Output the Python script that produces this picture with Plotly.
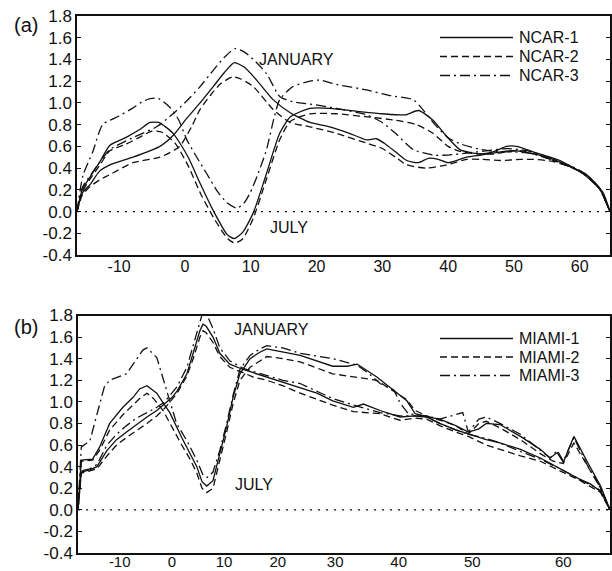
import math
import plotly.graph_objects as go

# ---------------- Panel (a): NCAR (latitude, value) ----------------
ncar1_jan_lat = [-16.4, -15.6, -14.4, -13.0, -11.4, -7.9, -3.8, -1.8, 0.3, 2.3, 4.3, 6.0, 7.5, 9.0, 10.9, 13.4, 16.0, 19.0, 22.0, 25.0, 27.6, 29.1, 30.5, 32.0, 33.7, 35.5, 37.0, 38.5, 40.0, 42.8, 45.0, 48.0, 50.0, 53.0, 56.0, 59.0, 61.0, 63.0, 64.6]
ncar1_jan_val = [0.0, 0.17, 0.25, 0.37, 0.43, 0.50, 0.60, 0.70, 0.86, 1.00, 1.15, 1.28, 1.37, 1.33, 1.21, 1.03, 0.91, 0.82, 0.78, 0.72, 0.66, 0.67, 0.62, 0.55, 0.47, 0.45, 0.49, 0.48, 0.45, 0.50, 0.52, 0.55, 0.56, 0.53, 0.48, 0.40, 0.34, 0.22, 0.0]

ncar2_jan_lat = [-16.4, -15.6, -14.4, -13.0, -11.4, -7.9, -3.8, -0.8, 1.0, 2.3, 4.0, 5.5, 7.3, 8.5, 10.4, 13.4, 16.0, 19.0, 23.0, 27.6, 30.0, 32.0, 33.7, 36.7, 39.8, 42.8, 45.0, 48.0, 51.0, 53.0, 56.0, 59.0, 61.0, 63.0, 64.6]
ncar2_jan_val = [0.0, 0.15, 0.23, 0.29, 0.34, 0.45, 0.50, 0.60, 0.78, 0.94, 1.08, 1.18, 1.24, 1.22, 1.15, 0.94, 0.82, 0.78, 0.72, 0.63, 0.58, 0.50, 0.43, 0.40, 0.43, 0.48, 0.48, 0.47, 0.48, 0.48, 0.46, 0.40, 0.33, 0.21, 0.0]

ncar3_jan_lat = [-16.4, -15.6, -14.4, -13.0, -11.4, -7.9, -4.3, -1.8, 0.3, 2.3, 4.3, 6.0, 7.6, 9.0, 10.4, 12.4, 14.4, 16.4, 19.0, 23.0, 27.6, 30.0, 32.0, 34.7, 37.7, 40.0, 43.0, 46.0, 49.0, 52.0, 56.0, 59.0, 61.0, 63.0, 64.6]
ncar3_jan_val = [0.0, 0.22, 0.33, 0.45, 0.57, 0.68, 0.78, 0.90, 1.02, 1.15, 1.30, 1.42, 1.50, 1.47, 1.40, 1.27, 1.06, 1.01, 0.99, 0.95, 0.89, 0.82, 0.72, 0.57, 0.52, 0.52, 0.54, 0.56, 0.58, 0.56, 0.48, 0.41, 0.34, 0.21, 0.0]

ncar1_jul_lat = [-16.4, -15.6, -14.4, -13.0, -11.4, -9.0, -7.0, -5.3, -4.0, -1.8, 0.5, 2.3, 4.3, 6.4, 7.5, 8.8, 10.4, 12.4, 14.4, 16.0, 19.0, 22.0, 26.6, 30.0, 33.5, 35.5, 37.7, 39.8, 41.8, 44.8, 46.8, 48.9, 50.4, 52.9, 57.0, 60.5, 62.0, 63.5, 64.6]
ncar1_jul_val = [0.0, 0.20, 0.32, 0.45, 0.61, 0.68, 0.75, 0.82, 0.82, 0.72, 0.50, 0.26, 0.01, -0.21, -0.25, -0.19, -0.01, 0.35, 0.72, 0.87, 0.95, 0.95, 0.92, 0.90, 0.89, 0.93, 0.84, 0.69, 0.57, 0.53, 0.55, 0.60, 0.60, 0.55, 0.47, 0.35, 0.27, 0.18, 0.0]

ncar2_jul_lat = [-16.4, -15.6, -14.4, -13.0, -11.4, -9.0, -7.0, -5.0, -3.5, -1.5, 0.5, 2.5, 4.5, 6.5, 7.6, 8.8, 10.4, 12.4, 14.4, 16.0, 19.0, 23.0, 28.0, 32.0, 35.2, 37.7, 40.0, 42.0, 44.8, 47.0, 49.0, 51.0, 53.0, 56.0, 59.0, 61.0, 63.0, 64.6]
ncar2_jul_val = [0.0, 0.18, 0.30, 0.42, 0.56, 0.62, 0.68, 0.74, 0.73, 0.63, 0.42, 0.15, -0.07, -0.25, -0.29, -0.25, -0.06, 0.30, 0.66, 0.83, 0.90, 0.90, 0.87, 0.84, 0.80, 0.72, 0.60, 0.55, 0.53, 0.53, 0.55, 0.56, 0.53, 0.47, 0.40, 0.33, 0.21, 0.0]

ncar3_jul_lat = [-16.4, -15.5, -14.0, -12.5, -10.0, -8.0, -6.5, -5.3, -4.0, -2.3, -1.0, 0.3, 1.8, 3.3, 5.0, 6.4, 7.9, 9.0, 9.9, 11.0, 12.4, 13.5, 14.4, 16.4, 19.0, 20.5, 23.0, 27.6, 31.0, 34.7, 36.0, 38.0, 40.0, 42.0, 45.0, 48.0, 50.0, 53.0, 56.0, 59.0, 61.0, 63.0, 64.6]
ncar3_jul_val = [0.0, 0.33, 0.55, 0.80, 0.88, 0.95, 1.01, 1.04, 1.04, 0.96, 0.85, 0.66, 0.50, 0.35, 0.18, 0.08, 0.03, 0.08, 0.17, 0.33, 0.57, 0.85, 1.03, 1.15, 1.20, 1.21, 1.17, 1.12, 1.07, 1.03, 0.95, 0.80, 0.68, 0.62, 0.57, 0.55, 0.55, 0.53, 0.47, 0.40, 0.33, 0.21, 0.0]

# ---------------- Panel (b): MIAMI (latitude, value) ----------------
miami1_jul_lat = [-17.8, -17.2, -15.1, -13.8, -11.9, -9.4, -7.5, -6.2, -4.8, -2.9, -1.7, -0.4, 1.9, 3.5, 4.8, 5.8, 6.7, 7.9, 9.2, 10.5, 11.7, 13.0, 14.9, 16.7, 18.0, 20.9, 24.0, 29.6, 32.0, 33.6, 36.7, 39.2, 41.2, 42.4, 44.0, 45.8, 47.9, 49.5, 50.8, 51.7, 53.3, 55.6, 57.7, 58.7, 59.4, 60.0, 61.0, 62.2, 63.4, 64.2]
miami1_jul_val = [0.0, 0.46, 0.47, 0.58, 0.80, 0.95, 1.04, 1.12, 1.15, 1.08, 0.99, 0.90, 0.67, 0.52, 0.40, 0.26, 0.22, 0.27, 0.52, 0.77, 1.04, 1.26, 1.40, 1.46, 1.49, 1.46, 1.43, 1.33, 1.33, 1.35, 1.23, 1.11, 1.01, 0.89, 0.86, 0.84, 0.78, 0.72, 0.75, 0.80, 0.79, 0.68, 0.56, 0.48, 0.53, 0.44, 0.68, 0.45, 0.22, 0.0]

miami2_jul_lat = [-17.8, -17.2, -15.1, -13.8, -11.9, -9.4, -7.5, -6.2, -4.8, -3.5, -1.7, -0.4, 1.9, 3.5, 4.8, 5.8, 6.7, 7.9, 9.2, 10.5, 11.7, 13.0, 14.9, 16.7, 18.0, 20.9, 24.0, 29.6, 33.6, 36.7, 39.2, 41.2, 42.4, 44.0, 45.8, 47.9, 49.5, 50.8, 51.7, 53.3, 55.6, 57.7, 59.0, 60.0, 61.0, 62.2, 63.4, 64.2]
miami2_jul_val = [0.0, 0.45, 0.46, 0.55, 0.74, 0.88, 0.97, 1.03, 1.08, 1.03, 0.92, 0.80, 0.60, 0.47, 0.34, 0.20, 0.16, 0.20, 0.45, 0.72, 0.98, 1.20, 1.32, 1.38, 1.42, 1.40, 1.37, 1.26, 1.23, 1.20, 1.10, 1.02, 0.92, 0.87, 0.83, 0.78, 0.70, 0.80, 0.82, 0.76, 0.65, 0.52, 0.45, 0.43, 0.62, 0.42, 0.20, 0.0]

miami3_jul_lat = [-17.8, -17.2, -15.6, -12.9, -11.9, -8.7, -5.6, -4.8, -2.9, -1.0, -0.4, 0.9, 2.9, 4.8, 6.0, 6.8, 7.9, 9.2, 10.5, 11.7, 13.0, 14.9, 16.7, 18.0, 20.9, 24.0, 29.6, 33.6, 35.5, 37.2, 39.3, 40.2, 41.4, 42.4, 44.0, 45.8, 47.9, 48.8, 49.5, 50.8, 51.7, 53.3, 55.6, 57.7, 58.7, 59.4, 60.0, 61.0, 62.2, 63.4, 64.2]
miami3_jul_val = [0.0, 0.58, 0.64, 1.14, 1.20, 1.26, 1.48, 1.50, 1.41, 1.10, 0.99, 0.80, 0.64, 0.46, 0.32, 0.30, 0.35, 0.55, 0.80, 1.06, 1.30, 1.43, 1.49, 1.52, 1.50, 1.45, 1.40, 1.34, 1.26, 1.17, 1.11, 0.99, 0.89, 0.88, 0.87, 0.84, 0.88, 0.90, 0.72, 0.84, 0.86, 0.80, 0.70, 0.55, 0.48, 0.55, 0.45, 0.67, 0.42, 0.20, 0.0]

miami1_jan_lat = [-17.8, -17.2, -15.6, -14.3, -12.4, -10.6, -8.7, -6.8, -4.8, -2.9, -1.4, 0.0, 1.0, 2.9, 4.1, 5.4, 6.0, 6.6, 7.9, 9.2, 11.1, 13.6, 15.5, 18.0, 20.9, 24.0, 26.9, 29.6, 33.0, 34.6, 37.2, 40.2, 42.4, 44.0, 45.8, 47.9, 49.5, 51.7, 53.3, 55.6, 57.7, 59.7, 61.6, 62.5, 63.4, 64.2]
miami1_jan_val = [0.0, 0.35, 0.37, 0.40, 0.55, 0.65, 0.72, 0.79, 0.86, 0.92, 0.98, 1.04, 1.10, 1.26, 1.45, 1.66, 1.72, 1.70, 1.60, 1.45, 1.35, 1.30, 1.27, 1.23, 1.18, 1.13, 1.08, 1.01, 0.95, 0.98, 0.92, 0.86, 0.87, 0.86, 0.80, 0.74, 0.70, 0.65, 0.62, 0.56, 0.48, 0.38, 0.28, 0.24, 0.17, 0.0]

miami2_jan_lat = [-17.8, -17.2, -15.6, -14.3, -12.4, -10.6, -8.7, -6.8, -4.8, -2.9, -1.4, 0.0, 1.0, 2.9, 4.1, 5.4, 6.0, 6.6, 7.9, 9.2, 11.1, 13.6, 15.5, 18.0, 20.9, 24.0, 26.9, 29.6, 33.0, 37.2, 40.2, 42.4, 44.0, 45.8, 47.9, 49.5, 51.7, 53.3, 55.6, 57.7, 59.7, 61.6, 63.4, 64.2]
miami2_jan_val = [0.0, 0.34, 0.36, 0.38, 0.50, 0.60, 0.67, 0.73, 0.80, 0.87, 0.94, 1.02, 1.08, 1.24, 1.40, 1.60, 1.66, 1.64, 1.55, 1.42, 1.32, 1.27, 1.23, 1.20, 1.15, 1.08, 1.02, 0.97, 0.91, 0.89, 0.83, 0.85, 0.84, 0.78, 0.72, 0.68, 0.60, 0.56, 0.50, 0.45, 0.36, 0.27, 0.16, 0.0]

miami3_jan_lat = [-17.8, -17.2, -15.6, -14.3, -12.4, -10.6, -8.7, -6.8, -4.8, -2.9, -1.4, 0.0, 1.0, 2.9, 4.1, 5.4, 6.0, 6.6, 7.9, 9.2, 11.1, 13.6, 15.5, 18.0, 20.9, 24.0, 26.9, 29.6, 33.0, 37.2, 40.2, 42.4, 44.0, 45.8, 47.9, 49.5, 51.7, 53.3, 55.6, 57.7, 59.7, 61.6, 63.4, 64.2]
miami3_jan_val = [0.0, 0.36, 0.38, 0.42, 0.60, 0.70, 0.78, 0.85, 0.90, 0.95, 1.00, 1.08, 1.14, 1.32, 1.52, 1.76, 1.84, 1.82, 1.68, 1.50, 1.38, 1.31, 1.28, 1.24, 1.20, 1.17, 1.10, 1.03, 0.97, 0.90, 0.87, 0.87, 0.86, 0.80, 0.74, 0.70, 0.66, 0.62, 0.54, 0.47, 0.38, 0.28, 0.18, 0.0]

x_tick_vals = [-10, 0, 10, 20, 30, 40, 50, 60]
x_tick_text = ["-10", "0", "10", "20", "30", "40", "50", "60"]
y_tick_vals = [-0.4, -0.2, 0.0, 0.2, 0.4, 0.6, 0.8, 1.0, 1.2, 1.4, 1.6, 1.8]
y_tick_text = ["-0.4", "-0.2", "0.0", "0.2", "0.4", "0.6", "0.8", "1.0", "1.2", "1.4", "1.6", "1.8"]
ncar_names = ["NCAR-1", "NCAR-2", "NCAR-3"]
miami_names = ["MIAMI-1", "MIAMI-2", "MIAMI-3"]


def merc(lat):
    """Mercator-stretched latitude used by panel (b)'s horizontal axis."""
    return math.log(math.tan(math.pi / 4 + math.radians(lat) / 2))


FONT = "Liberation Sans, Arial, Helvetica, sans-serif"
INK = "#111111"
DASHES = ["solid", "7px,4px", "10px,4px,2px,4px"]
W, H = 612, 571

fig = go.Figure()

ncar = [
    (ncar1_jan_lat, ncar1_jan_val, ncar1_jul_lat, ncar1_jul_val),
    (ncar2_jan_lat, ncar2_jan_val, ncar2_jul_lat, ncar2_jul_val),
    (ncar3_jan_lat, ncar3_jan_val, ncar3_jul_lat, ncar3_jul_val),
]
for k, (jl, jv, ul, uv) in enumerate(ncar):
    name = ncar_names[k]
    line = dict(color=INK, width=1.3, dash=DASHES[k], shape="spline", smoothing=0.6)
    for lat, val, month in ((jl, jv, "January"), (ul, uv, "July")):
        fig.add_trace(go.Scatter(x=lat, y=val, mode="lines", name=f"{name} {month}",
                                 legendgroup=name, showlegend=False, line=line,
                                 xaxis="x", yaxis="y"))

miami = [
    (miami1_jan_lat, miami1_jan_val, miami1_jul_lat, miami1_jul_val),
    (miami2_jan_lat, miami2_jan_val, miami2_jul_lat, miami2_jul_val),
    (miami3_jan_lat, miami3_jan_val, miami3_jul_lat, miami3_jul_val),
]
for k, (jl, jv, ul, uv) in enumerate(miami):
    name = miami_names[k]
    line = dict(color=INK, width=1.3, dash=DASHES[k])
    for lat, val, month in ((jl, jv, "January"), (ul, uv, "July")):
        fig.add_trace(go.Scatter(x=[merc(v) for v in lat], y=val, mode="lines",
                                 name=f"{name} {month}", legendgroup=name,
                                 showlegend=False, line=line, xaxis="x2", yaxis="y2",
                                 customdata=lat,
                                 hovertemplate="lat %{customdata}<br>%{y}<extra>" + name + "</extra>"))

# zero reference lines
for xr, yr in (("x", "y"), ("x2", "y2")):
    fig.add_shape(type="line", xref=f"{xr} domain", yref=yr, x0=0, x1=1, y0=0, y1=0,
                  line=dict(color=INK, width=1.3, dash="2px,6px"), layer="below")

# key (legend) boxes: line sample + label for each series, per panel
def add_key(names, top_px, step_px):
    for k, nm in enumerate(names):
        yk = 1 - (top_px + k * step_px) / H
        fig.add_shape(type="line", xref="paper", yref="paper",
                      x0=440 / W, x1=513 / W, y0=yk, y1=yk,
                      line=dict(color=INK, width=1.3, dash=DASHES[k]))
        fig.add_annotation(text=nm, xref="paper", yref="paper", x=517 / W, y=yk,
                           xanchor="left", yanchor="middle", showarrow=False,
                           font=dict(family=FONT, size=16, color=INK))


add_key(ncar_names, 37.5, 19)
add_key(miami_names, 338.5, 18.5)

axis_common = dict(showline=True, linecolor=INK, linewidth=1.5, showgrid=False,
                   zeroline=False, automargin=False)
xfont = dict(family=FONT, size=16, color=INK)
xfont_b = dict(family=FONT, size=15, color=INK)
yfont = dict(family=FONT, size=17, color=INK)

fig.update_layout(
    width=W, height=H,
    margin=dict(l=0, r=0, t=0, b=0),
    paper_bgcolor="white", plot_bgcolor="white",
    font=dict(family=FONT, size=16, color=INK),
    showlegend=False,
    xaxis=dict(domain=[77 / W, 610 / W], range=[-16.4, 64.6], anchor="y",
               tickmode="array", tickvals=x_tick_vals, ticktext=x_tick_text,
               ticks="", mirror=True, tickfont=xfont, ticklabelstandoff=-4,
               **axis_common),
    yaxis=dict(domain=[1 - 255 / H, 1 - 16 / H], range=[-0.4, 1.8], anchor="x",
               tickmode="array", tickvals=y_tick_vals, ticktext=y_tick_text,
               ticks="inside", ticklen=4, tickwidth=1, tickcolor=INK,
               mirror="ticks", tickfont=yfont, **axis_common),
    xaxis2=dict(domain=[78 / W, 610 / W], range=[merc(-17.8), merc(64.2)], anchor="y2",
                tickmode="array", tickvals=[merc(v) for v in x_tick_vals],
                ticktext=x_tick_text, ticks="", mirror=True, tickfont=xfont_b,
                ticklabelstandoff=-6, **axis_common),
    yaxis2=dict(domain=[1 - 553 / H, 1 - 315.5 / H], range=[-0.4, 1.8], anchor="x2",
                tickmode="array", tickvals=y_tick_vals, ticktext=y_tick_text,
                ticks="inside", ticklen=4, tickwidth=1, tickcolor=INK,
                mirror="ticks", tickfont=yfont, **axis_common),
)

# panel letters and month labels
for txt, ypx in (("(a)", 25), ("(b)", 327)):
    fig.add_annotation(text=txt, xref="paper", yref="paper", x=25.5 / W, y=1 - ypx / H,
                       xanchor="center", yanchor="middle", showarrow=False,
                       font=dict(family=FONT, size=20, color=INK))
month_font = dict(family=FONT, size=16, color=INK)
fig.add_annotation(text="JANUARY", xref="x", yref="y", x=16.9, y=1.4, showarrow=False,
                   xanchor="center", yanchor="middle", font=month_font)
fig.add_annotation(text="JULY", xref="x", yref="y", x=15.8, y=-0.15, showarrow=False,
                   xanchor="center", yanchor="middle", font=month_font)
fig.add_annotation(text="JANUARY", xref="x2", yref="y2", x=merc(18.8), y=1.67,
                   showarrow=False, xanchor="center", yanchor="middle", font=month_font)
fig.add_annotation(text="JULY", xref="x2", yref="y2", x=merc(15.6), y=0.23,
                   showarrow=False, xanchor="center", yanchor="middle", font=month_font)

fig.write_html("out.html")
